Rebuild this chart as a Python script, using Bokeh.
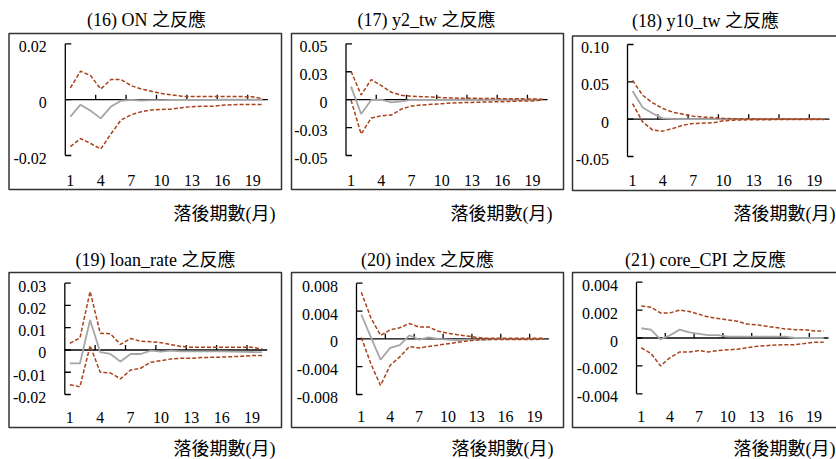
from bokeh.plotting import figure
from bokeh.layouts import row, column
from bokeh.models import Range1d
from bokeh.core.properties import value
from bokeh.embed import file_html
from bokeh.resources import INLINE

# ---------------- data ----------------
periods = list(range(1, 21))
x_tick_values = [1, 4, 7, 10, 13, 16, 19]
x_tick_labels = ["1", "4", "7", "10", "13", "16", "19"]
x_axis_label = "落後期數(月)"

on_title = "(16) ON 之反應"
on_resp = [-0.0061, -0.0018, -0.0040, -0.0067, -0.0025, -0.0004, -0.0001, -0.0003, -0.0002, -0.0002,
           -0.0001, -0.0001, -0.0001, -0.0001, -0.0001, 0.0, 0.0, 0.0, 0.0, 0.0]
on_upper = [0.0042, 0.0102, 0.0086, 0.0038, 0.0072, 0.0072, 0.0050, 0.0038, 0.0030, 0.0022,
            0.0017, 0.0012, 0.0011, 0.0011, 0.0011, 0.0011, 0.0011, 0.0011, 0.0010, 0.0003]
on_lower = [-0.0168, -0.0139, -0.0157, -0.0177, -0.0123, -0.0073, -0.0054, -0.0043, -0.0037, -0.0035,
            -0.0034, -0.0029, -0.0025, -0.0024, -0.0024, -0.0020, -0.0018, -0.0017, -0.0017, -0.0017]
on_yticks = [-0.02, 0, 0.02]
on_ylabels = ["-0.02", "0", "0.02"]

y2_title = "(17) y2_tw 之反應"
y2_resp = [0.0117, -0.0129, -0.0003, 0.0000, -0.0024, -0.0015, 0.0000, -0.0002, -0.0002, -0.0002,
           -0.0001, -0.0001, -0.0001, -0.0001, 0.0, 0.0, 0.0, 0.0, 0.0, 0.0]
y2_upper = [0.0254, 0.0042, 0.0180, 0.0126, 0.0066, 0.0039, 0.0030, 0.0027, 0.0024, 0.0018,
            0.0015, 0.0013, 0.0012, 0.0011, 0.0010, 0.0009, 0.0008, 0.0007, 0.0006, 0.0003]
y2_lower = [-0.0005, -0.0308, -0.0165, -0.0144, -0.0138, -0.0084, -0.0057, -0.0048, -0.0042, -0.0036,
            -0.0030, -0.0027, -0.0025, -0.0022, -0.0020, -0.0018, -0.0015, -0.0012, -0.0012, -0.0003]
y2_yticks = [-0.05, -0.025, 0, 0.025, 0.05]
y2_ylabels = ["-0.05", "-0.03", "0", "0.03", "0.05"]

y10_title = "(18) y10_tw 之反應"
y10_resp = [0.0378, 0.0156, 0.0076, 0.0010, 0.0003, 0.0001, 0.0, 0.0, 0.0, 0.0,
            0.0, 0.0, 0.0, 0.0, 0.0, 0.0, 0.0, 0.0, 0.0, 0.0]
y10_upper = [0.0520, 0.0320, 0.0218, 0.0142, 0.0093, 0.0067, 0.0040, 0.0027, 0.0022, 0.0009,
             0.0005, 0.0004, 0.0004, 0.0003, 0.0003, 0.0003, 0.0002, 0.0002, 0.0002, 0.0001]
y10_lower = [0.0209, -0.0036, -0.0147, -0.0160, -0.0124, -0.0080, -0.0058, -0.0053, -0.0049, -0.0022,
             -0.0013, -0.0010, -0.0008, -0.0007, -0.0006, -0.0005, -0.0004, -0.0004, -0.0003, -0.0003]
y10_yticks = [-0.05, 0, 0.05, 0.10]
y10_ylabels = ["-0.05", "0", "0.05", "0.10"]

loan_title = "(19) loan_rate 之反應"
loan_resp = [-0.0060, -0.0060, 0.0135, -0.0010, -0.0018, -0.0052, -0.0018, -0.0018, -0.0003, -0.0007,
             -0.0003, -0.0006, -0.0006, -0.0006, -0.0006, -0.0006, -0.0007, -0.0008, -0.0009, -0.0010]
loan_upper = [0.0030, 0.0054, 0.0263, 0.0075, 0.0073, 0.0025, 0.0052, 0.0039, 0.0037, 0.0033,
              0.0024, 0.0016, 0.0012, 0.0012, 0.0012, 0.0012, 0.0012, 0.0012, 0.0012, 0.0004]
loan_lower = [-0.0156, -0.0165, 0.0019, -0.0100, -0.0103, -0.0130, -0.0090, -0.0082, -0.0055, -0.0048,
              -0.0040, -0.0037, -0.0037, -0.0034, -0.0033, -0.0032, -0.0030, -0.0028, -0.0025, -0.0025]
loan_yticks = [-0.02, -0.01, 0, 0.01, 0.02, 0.03]
loan_ylabels = ["-0.02", "-0.01", "0", "0.01", "0.02", "0.03"]

idx_title = "(20) index 之反應"
idx_resp = [0.0035, 0.0002, -0.0030, -0.0013, -0.0009, 0.0005, -0.0001, 0.0002, 0.0000, -0.0001,
            -0.0002, -0.0001, -0.0001, -0.0001, 0.0, 0.0, 0.0, 0.0, 0.0, 0.0]
idx_upper = [0.0067, 0.0030, 0.0005, 0.0013, 0.0016, 0.0022, 0.0017, 0.0017, 0.0011, 0.0008,
             0.0006, 0.0004, 0.0002, 0.0001, 0.0001, 0.0001, 0.0001, 0.0001, 0.0001, 0.0001]
idx_lower = [0.0002, -0.0036, -0.0067, -0.0038, -0.0026, -0.0011, -0.0013, -0.0011, -0.0009, -0.0007,
             -0.0005, -0.0003, -0.00015, -0.0001, -0.0001, -0.0001, -0.0001, -0.0001, -0.0001, 0.0]
idx_yticks = [-0.008, -0.004, 0, 0.004, 0.008]
idx_ylabels = ["-0.008", "-0.004", "0", "0.004", "0.008"]

cpi_title = "(21) core_CPI 之反應"
cpi_resp = [0.0007, 0.0006, -0.0001, 0.0002, 0.0006, 0.0004, 0.0003, 0.0002, 0.0002, 0.0001,
            0.0001, 0.0001, 0.0001, 0.0001, 0.0001, 0.0001, 0.0, 0.0, 0.0, 0.0]
cpi_upper = [0.0023, 0.0022, 0.0018, 0.0018, 0.0020, 0.0019, 0.0017, 0.0015, 0.0014, 0.0013,
             0.0012, 0.0010, 0.00095, 0.00085, 0.00075, 0.00065, 0.0006, 0.0006, 0.0005, 0.0005]
cpi_lower = [-0.0007, -0.0011, -0.0020, -0.0014, -0.0010, -0.0010, -0.0009, -0.0010, -0.0009, -0.00085,
             -0.0008, -0.0007, -0.0006, -0.00055, -0.0005, -0.00048, -0.00048, -0.0004, -0.0003, -0.0003]
cpi_yticks = [-0.004, -0.002, 0, 0.002, 0.004]
cpi_ylabels = ["-0.004", "-0.002", "0", "0.002", "0.004"]

# ---------------- style / layout (page pixels) ----------------
FONT = "'Liberation Serif', 'Noto Sans CJK TC'"
SERIF = "Liberation Serif"
DASH_COLOR = "#A8431B"
GRAY = "#A6A6A6"
BOX_COLOR = "#333333"


def panel(title, resp, upper, lower, yticks, ylabels, g):
    ox, oy, W, H = g["ox"], g["oy"], g["W"], g["H"]
    cw = g["cw"]
    vmax, vmin = max(yticks), min(yticks)
    s = (vmax - vmin) / (g["yb"] - g["yt"])          # data units per pixel
    xs = 0.5 - (g["x0"] - ox) / cw
    xe = xs + W / cw
    ye = vmax + (g["yt"] - oy) * s
    ys = ye - H * s

    def dx(px):
        return xs + (px - ox) / cw

    def dy(py):
        return ye - (py - oy) * s

    p = figure(width=W, height=H, x_range=Range1d(xs, xe), y_range=Range1d(ys, ye),
               x_axis_type=None, y_axis_type=None, toolbar_location=None, output_backend="svg",
               min_border_left=0, min_border_right=0, min_border_top=0, min_border_bottom=0)
    p.outline_line_color = None
    p.background_fill_color = "white"
    p.border_fill_color = "white"

    # chart-area box
    bl, bt, br, bb = g["box"]
    p.quad(left=[dx(bl)], right=[dx(br)], top=[dy(bt)], bottom=[dy(bb)], fill_color=None,
           line_color=BOX_COLOR, line_width=1.5)

    left_edge = periods[0] - 0.5
    right_edge = periods[-1] + 0.5
    # y axis
    p.segment(x0=[left_edge], y0=[vmin], x1=[left_edge], y1=[vmax], line_color="black", line_width=1.3)
    p.ray(x=[left_edge] * len(yticks), y=yticks, length=6, length_units="screen", angle=0,
          line_color="black", line_width=1.3)
    # x axis at zero
    p.segment(x0=[left_edge], y0=[0], x1=[right_edge], y1=[0], line_color="black", line_width=1.3)
    xt = [v - 0.5 for v in x_tick_values[1:]]
    p.ray(x=xt, y=[0] * len(xt), length=5, length_units="screen", angle=1.5707963,
          line_color="black", line_width=1.3)

    # tick labels
    p.text(x=[left_edge] * len(yticks), y=yticks, text=ylabels, x_offset=-18.5, y_offset=3,
           text_align="right", text_baseline="middle", text_font=value(SERIF),
           text_font_size="16px", text_color="black")
    p.text(x=x_tick_values, y=[vmin] * len(x_tick_values), text=x_tick_labels,
           y_offset=g["xty"] - g["yb"], text_align="center", text_baseline="middle",
           text_font=value(SERIF), text_font_size="16px", text_color="black")

    # title and axis title
    tx, ty = g["title"]
    p.text(x=[dx(tx)], y=[dy(ty)], text=[title], text_align="center", text_baseline="middle",
           text_font=value(FONT), text_font_size="18px", text_color="black")
    lx, ly = g["xlab"]
    p.text(x=[dx(lx)], y=[dy(ly)], text=[x_axis_label], text_align="right", text_baseline="middle",
           text_font=value(FONT), text_font_size="18px", text_color="black")

    # series
    p.line(periods, resp, line_color=GRAY, line_width=1.8)
    p.line(periods, upper, line_color=DASH_COLOR, line_width=1.5, line_dash="4 2")
    p.line(periods, lower, line_color=DASH_COLOR, line_width=1.5, line_dash="4 2")
    return p


G1 = dict(ox=0, oy=0, W=286, H=236, x0=64.8, cw=10.13, yt=43.3, yb=155.0,
          box=(8.5, 33.0, 281.0, 189.0), title=(146.0, 19.5), xlab=(275.0, 213.0), xty=179.5)
G2 = dict(ox=286, oy=0, W=281, H=236, x0=345.5, cw=10.08, yt=43.3, yb=155.0,
          box=(291.0, 33.0, 563.0, 189.0), title=(426.0, 19.5), xlab=(552.0, 213.0), xty=180.0)
G3 = dict(ox=567, oy=0, W=269, H=236, x0=627.0, cw=10.1, yt=44.0, yb=156.0,
          box=(572.0, 35.5, 850.0, 190.0), title=(705.0, 20.5), xlab=(835.0, 213.0), xty=180.0)
G4 = dict(ox=0, oy=236, W=286, H=223, x0=64.3, cw=10.12, yt=282.7, yb=394.0,
          box=(8.5, 272.0, 281.0, 427.0), title=(155.0, 259.5), xlab=(275.0, 448.0), xty=416.5)
G5 = dict(ox=286, oy=236, W=281, H=223, x0=356.0, cw=9.62, yt=282.7, yb=394.0,
          box=(291.0, 272.0, 563.0, 427.0), title=(427.0, 259.5), xlab=(553.0, 448.0), xty=416.0)
G6 = dict(ox=567, oy=236, W=269, H=223, x0=636.0, cw=9.6, yt=281.7, yb=393.3,
          box=(572.0, 272.0, 850.0, 427.0), title=(705.0, 259.5), xlab=(835.0, 448.0), xty=416.0)

p1 = panel(on_title, on_resp, on_upper, on_lower, on_yticks, on_ylabels, G1)
p2 = panel(y2_title, y2_resp, y2_upper, y2_lower, y2_yticks, y2_ylabels, G2)
p3 = panel(y10_title, y10_resp, y10_upper, y10_lower, y10_yticks, y10_ylabels, G3)
p4 = panel(loan_title, loan_resp, loan_upper, loan_lower, loan_yticks, loan_ylabels, G4)
p5 = panel(idx_title, idx_resp, idx_upper, idx_lower, idx_yticks, idx_ylabels, G5)
p6 = panel(cpi_title, cpi_resp, cpi_upper, cpi_lower, cpi_yticks, cpi_ylabels, G6)

layout = column(row(p1, p2, p3, spacing=0), row(p4, p5, p6, spacing=0), spacing=0)

with open("out.html", "w") as f:
    f.write(file_html(layout, INLINE))
